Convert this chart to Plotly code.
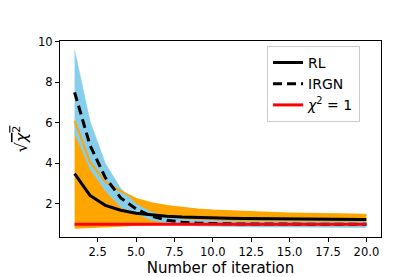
import plotly.graph_objects as go

iterations = list(range(1, 21))
rl_mean = [3.49, 2.42, 1.93, 1.69, 1.54, 1.45, 1.39, 1.35, 1.32, 1.30,
           1.29, 1.28, 1.27, 1.26, 1.25, 1.25, 1.24, 1.24, 1.23, 1.23]
rl_upper = [6.1, 4.07, 3.09, 2.63, 2.25, 2.03, 1.9, 1.8, 1.73, 1.68,
            1.64, 1.6, 1.57, 1.55, 1.53, 1.51, 1.5, 1.49, 1.48, 1.47]
rl_lower = [0.78, 0.8, 0.83, 0.87, 0.92, 0.96, 1.0, 1.02, 1.04, 1.05,
            1.06, 1.07, 1.07, 1.08, 1.08, 1.08, 1.09, 1.09, 1.09, 1.09]
irgn_mean = [7.5, 4.9, 3.3, 2.3, 1.75, 1.4, 1.2, 1.1, 1.05, 1.03,
             1.02, 1.01, 1.01, 1.0, 1.0, 1.0, 1.0, 1.0, 1.0, 1.0]
irgn_upper = [9.6, 6.1, 4.0, 2.77, 2.0, 1.6, 1.38, 1.26, 1.2, 1.17,
              1.15, 1.14, 1.13, 1.13, 1.12, 1.12, 1.12, 1.12, 1.12, 1.12]
irgn_lower = [5.45, 3.7, 2.63, 1.84, 1.5, 1.2, 1.02, 0.94, 0.9, 0.88,
              0.87, 0.86, 0.85, 0.85, 0.84, 0.84, 0.83, 0.83, 0.83, 0.83]
chi_level = [1.0] * 20

x_ticks = [2.5, 5.0, 7.5, 10.0, 12.5, 15.0, 17.5, 20.0]
y_ticks = [2, 4, 6, 8, 10]

ORANGE = "#FFA500"
SKY = "#87CEEB"
FONT = "DejaVu Sans"

fig = go.Figure()
# RL band
fig.add_trace(go.Scatter(x=iterations, y=rl_lower, mode="lines", line=dict(width=0, color=ORANGE),
                         showlegend=False, hoverinfo="skip"))
fig.add_trace(go.Scatter(x=iterations, y=rl_upper, mode="lines", line=dict(width=0.5, color=ORANGE),
                         fill="tonexty", fillcolor=ORANGE, showlegend=False, hoverinfo="skip"))
# IRGN band
fig.add_trace(go.Scatter(x=iterations, y=irgn_lower, mode="lines", line=dict(width=0, color=SKY),
                         showlegend=False, hoverinfo="skip"))
fig.add_trace(go.Scatter(x=iterations, y=irgn_upper, mode="lines", line=dict(width=0.5, color=SKY),
                         fill="tonexty", fillcolor=SKY, showlegend=False, hoverinfo="skip"))
# orange upper edge drawn over the blue band
fig.add_trace(go.Scatter(x=iterations, y=rl_upper, mode="lines", line=dict(width=2, color=ORANGE),
                         showlegend=False, hoverinfo="skip"))
# mean curves
fig.add_trace(go.Scatter(x=iterations, y=rl_mean, mode="lines", name="RL",
                         line=dict(width=3, color="black")))
fig.add_trace(go.Scatter(x=iterations, y=irgn_mean, mode="lines", name="IRGN",
                         line=dict(width=3, color="black", dash="9px,5px")))
fig.add_trace(go.Scatter(x=iterations, y=chi_level, mode="lines", name="<i>χ</i><sup>2</sup> = 1",
                         line=dict(width=3, color="red")))

fig.update_layout(
    width=415, height=277,
    margin=dict(l=52, r=42, t=33, b=35),
    paper_bgcolor="white", plot_bgcolor="white",
    font=dict(family=FONT, color="black", size=11),
    showlegend=True,
    legend=dict(x=0.645, y=0.975, xanchor="left", yanchor="top", traceorder="normal",
                bgcolor="rgba(255,255,255,0.9)", bordercolor="#CCCCCC", borderwidth=1,
                font=dict(size=14, family=FONT), itemwidth=30, tracegroupgap=0),
    xaxis=dict(range=[0.05, 20.95], tickvals=x_ticks, ticktext=[f"{v:.1f}" for v in x_ticks],
               showgrid=False, zeroline=False, showline=True, linecolor="black", linewidth=1,
               mirror=True, ticks="outside", ticklen=4, tickcolor="black",
               tickfont=dict(size=11.5),
               title=dict(text="Number of iteration", font=dict(size=15, family=FONT), standoff=4)),
    yaxis=dict(range=[0.37, 10.03], tickvals=y_ticks, ticktext=[str(v) for v in y_ticks],
               showgrid=False, zeroline=False, showline=True, linecolor="black", linewidth=1,
               mirror=True, ticks="outside", ticklen=4, tickcolor="black",
               tickfont=dict(size=11.5),
               title=dict(text="√<span style='text-decoration:overline'><i>χ</i><sup>2</sup></span>",
                          font=dict(size=16, family=FONT), standoff=6)),
)

fig.write_html("out.html")
